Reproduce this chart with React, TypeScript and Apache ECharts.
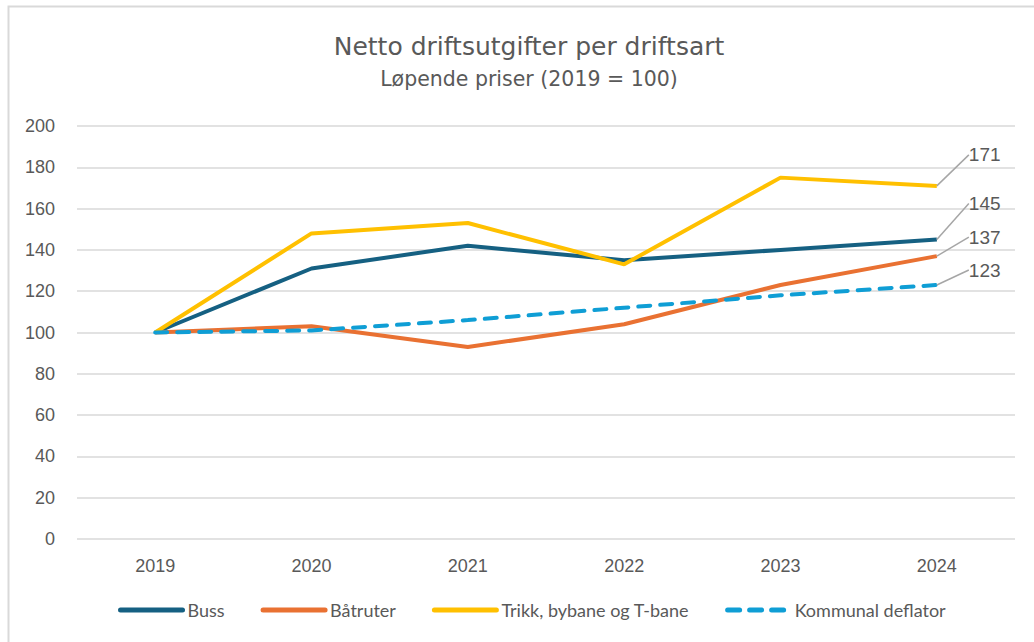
import React, { useEffect, useRef } from "react";
import * as echarts from "echarts";

const years = ["2019", "2020", "2021", "2022", "2023", "2024"];
const buss = [100, 131, 142, 135, 140, 145];
const batruter = [100, 103, 93, 104, 123, 137];
const trikk = [100, 148, 153, 133, 175, 171];
const deflator = [100, 101, 106, 112, 118, 123];

const seriesNames = ["Buss", "Båtruter", "Trikk, bybane og T-bane", "Kommunal deflator"];
const seriesColors = ["#156082", "#E97132", "#FFC000", "#0F9ED5"];
const labelOffsets = [
  { dx: 28, dy: -36 },
  { dx: 28, dy: -19 },
  { dx: 28, dy: -31 },
  { dx: 28, dy: -15 },
];

export default function App() {
  const ref = useRef<HTMLDivElement>(null);
  useEffect(() => {
    if (!ref.current) return;
    const chart = echarts.init(ref.current, null, { renderer: "svg" });
    const allData = [buss, batruter, trikk, deflator];
    const series = allData.map((d, i) => ({
      name: seriesNames[i],
      type: "line",
      data: d.map((v, j) =>
        j === d.length - 1
          ? {
              value: v,
              symbol: "circle",
              symbolSize: 0.01,
              label: {
                show: true,
                position: "right",
                distance: 4,
                formatter: "{c}",
                color: "#595959",
                fontSize: 19,
                fontFamily: "Liberation Sans, Arial, sans-serif",
              },
              labelLine: { show: true, lineStyle: { color: "#a6a6a6", width: 1.5 } },
            }
          : v
      ),
      symbol: "none",
      showSymbol: true,
      lineStyle: {
        color: seriesColors[i],
        width: 4,
        type: i === 3 ? [12, 10] : "solid",
        cap: i === 3 ? "round" : "butt",
      },
      itemStyle: { color: seriesColors[i] },
      labelLayout: labelOffsets[i],
      labelLine: { show: true, lineStyle: { color: "#a6a6a6", width: 1.5 } },
      z: i === 3 ? 5 : 3,
    }));
    chart.setOption({
      animation: false,
      backgroundColor: "#ffffff",
      title: {
        text: "Netto driftsutgifter per driftsart",
        subtext: "Løpende priser (2019 = 100)",
        left: 524,
        textAlign: "center",
        top: 29,
        itemGap: 9,
        textStyle: {
          color: "#595959",
          fontSize: 25,
          fontWeight: "normal",
          fontFamily: "DejaVu Sans, sans-serif",
        },
        subtextStyle: {
          color: "#595959",
          fontSize: 20.5,
          fontFamily: "DejaVu Sans, sans-serif",
        },
      },
      graphic: [
        {
          type: "rect",
          shape: { x: 8.5, y: 6.5, width: 1040, height: 650 },
          style: { fill: "none", stroke: "#d9d9d9", lineWidth: 2 },
          silent: true,
        },
      ],
      legend: {
        top: 596,
        left: 113,
        itemWidth: 62,
        itemHeight: 14,
        itemGap: 36,
        itemStyle: { opacity: 0 },
        lineStyle: { width: 5, cap: "round" },
        textStyle: {
          color: "#595959",
          fontSize: 18,
          fontFamily: "Lato, sans-serif",
        },
        data: seriesNames,
      },
      grid: { left: 77, right: 19, top: 126, bottom: 103, containLabel: false },
      xAxis: {
        type: "category",
        data: years,
        boundaryGap: true,
        axisLine: { show: false },
        axisTick: { show: false },
        axisLabel: {
          color: "#595959",
          fontSize: 18,
          margin: 18,
          fontFamily: "Liberation Sans, Arial, sans-serif",
        },
      },
      yAxis: {
        type: "value",
        min: 0,
        max: 200,
        interval: 20,
        axisLine: { show: false },
        axisTick: { show: false },
        axisLabel: {
          color: "#595959",
          fontSize: 18,
          margin: 22,
          fontFamily: "Liberation Sans, Arial, sans-serif",
        },
        splitLine: { lineStyle: { color: "#d9d9d9", width: 1.5 } },
      },
      series,
    });
    return () => chart.dispose();
  }, []);
  return <div ref={ref} style={{ width: 1034, height: 642, position: "absolute", left: 0, top: 0 }} />;
}
